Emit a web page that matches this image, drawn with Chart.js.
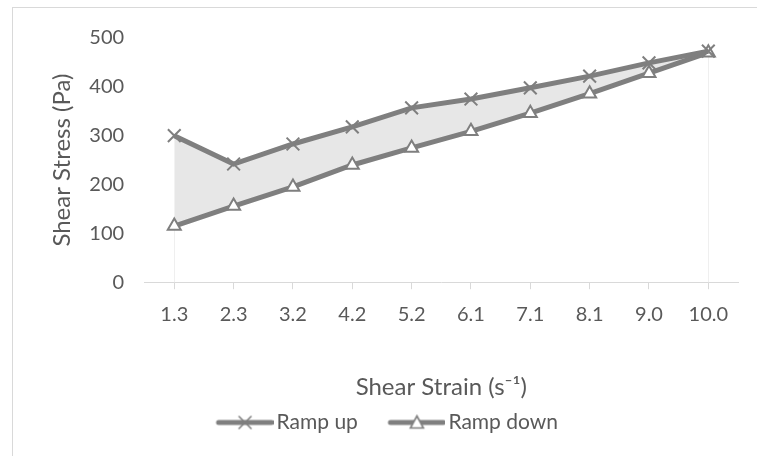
<!DOCTYPE html>
<html>
<head>
<meta charset="utf-8">
<script src="https://cdn.jsdelivr.net/npm/chart.js@4/dist/chart.umd.min.js"></script>
<style>
  html, body { margin: 0; padding: 0; background: #ffffff; }
  #wrap { position: relative; width: 757px; height: 456px; overflow: hidden; }
  #frame { position: absolute; left: 12px; top: 7px; width: 800px; height: 500px; border: 1px solid #d9d9d9; box-sizing: border-box; }
  #chart { position: absolute; left: 0; top: 0; }
</style>
</head>
<body>
<div id="wrap">
  <div id="frame"></div>
  <canvas id="chart" width="757" height="456"></canvas>
</div>
<script>
// Shear strain rates (s⁻¹) along the category axis
const categories = ['1.3', '2.3', '3.2', '4.2', '5.2', '6.1', '7.1', '8.1', '9.0', '10.0'];
// Shear stress (Pa) while ramping the rate up and back down
const rampUp = [300, 242, 283, 318, 357, 375, 398, 422, 449, 473];
const rampDown = [115, 156, 195, 240, 275, 309, 346, 386, 428, 470];
// Stress axis ticks
const yTicks = [0, 100, 200, 300, 400, 500];

const GREY = '#7f7f7f';
const TEXT = '#595959';
const FONT = 'Lato, "Open Sans", sans-serif';

// Legend swatch: thick line with the series marker in the middle.
// The swatch sits at the right of the image so the entry starts with a small gap.
function legendSwatch(kind) {
  const c = document.createElement('canvas');
  c.width = 85; c.height = 18;
  const g = c.getContext('2d');
  const x0 = 30, x1 = 83, mid = (x0 + x1) / 2;
  g.strokeStyle = GREY;
  g.lineCap = 'round';
  g.lineWidth = 5;
  g.beginPath(); g.moveTo(x0, 9); g.lineTo(x1, 9); g.stroke();
  g.lineWidth = 1.6;
  if (kind === 'cross') {
    g.beginPath();
    g.moveTo(mid - 6, 3); g.lineTo(mid + 6, 15);
    g.moveTo(mid + 6, 3); g.lineTo(mid - 6, 15);
    g.stroke();
  } else {
    g.fillStyle = '#ffffff';
    g.beginPath();
    g.moveTo(mid, 2.5); g.lineTo(mid + 6.5, 14.5); g.lineTo(mid - 6.5, 14.5); g.closePath();
    g.fill(); g.stroke();
  }
  return c;
}

// Faint vertical edges of the shaded band at the first and last category
const bandEdges = {
  id: 'bandEdges',
  beforeDatasetsDraw(chart) {
    const x = chart.scales.x, y = chart.scales.y, ctx = chart.ctx;
    ctx.save();
    ctx.strokeStyle = '#efefef';
    ctx.lineWidth = 1;
    [0, categories.length - 1].forEach(i => {
      const px = Math.round(x.getPixelForValue(i)) + 0.5;
      ctx.beginPath();
      ctx.moveTo(px, y.getPixelForValue(rampDown[i]));
      ctx.lineTo(px, y.getPixelForValue(yTicks[0]));
      ctx.stroke();
    });
    ctx.restore();
  }
};

new Chart(document.getElementById('chart'), {
  type: 'line',
  data: {
    labels: categories,
    datasets: [
      {
        label: 'Ramp up',
        data: rampUp,
        borderColor: GREY,
        borderWidth: 5,
        tension: 0,
        pointStyle: 'crossRot',
        pointRadius: 9,
        pointBorderWidth: 2,
        pointBorderColor: GREY,
        pointBackgroundColor: GREY,
        fill: { target: 1, above: '#e7e7e7', below: '#e7e7e7' }
      },
      {
        label: 'Ramp down',
        data: rampDown,
        borderColor: GREY,
        borderWidth: 5,
        tension: 0,
        pointStyle: 'triangle',
        pointRadius: 7.5,
        pointBorderWidth: 2,
        pointBorderColor: GREY,
        pointBackgroundColor: '#ffffff',
        fill: false
      }
    ]
  },
  options: {
    responsive: false,
    animation: false,
    events: [],
    layout: { padding: { left: 16, right: 19, top: 38, bottom: 13 } },
    scales: {
      x: {
        offset: true,
        grid: { display: true, drawOnChartArea: false, drawTicks: true, tickLength: 7, color: '#d9d9d9' },
        border: { display: true, color: '#d9d9d9', width: 1 },
        ticks: { color: TEXT, font: { family: FONT, size: 20 }, padding: 13, maxRotation: 0, autoSkip: false },
        title: {
          display: true,
          text: 'Shear Strain (s⁻¹)',
          color: TEXT,
          font: { family: FONT, size: 24 },
          padding: { top: 34, bottom: 0 }
        }
      },
      y: {
        min: yTicks[0],
        max: yTicks[yTicks.length - 1],
        afterBuildTicks(scale) { scale.ticks = yTicks.map(v => ({ value: v })); },
        grid: { display: false },
        border: { display: false },
        ticks: { color: TEXT, font: { family: FONT, size: 20 }, padding: 12.5 },
        title: {
          display: true,
          text: 'Shear Stress (Pa)',
          color: TEXT,
          font: { family: FONT, size: 24 },
          padding: { top: 32, bottom: 0 }
        }
      }
    },
    plugins: {
      filler: { drawTime: 'beforeDatasetsDraw' },
      tooltip: { enabled: false },
      legend: {
        position: 'bottom',
        labels: {
          color: TEXT,
          font: { family: FONT, size: 21 },
          usePointStyle: true,
          pointStyleWidth: 70,
          padding: 10,
          generateLabels(chart) {
            return chart.data.datasets.map((ds, i) => ({
              text: ds.label,
              datasetIndex: i,
              fontColor: TEXT,
              pointStyle: legendSwatch(i === 0 ? 'cross' : 'triangle'),
              lineWidth: 0,
              strokeStyle: GREY,
              fillStyle: GREY,
              hidden: false
            }));
          }
        }
      }
    }
  },
  plugins: [bandEdges]
});
</script>
</body>
</html>
